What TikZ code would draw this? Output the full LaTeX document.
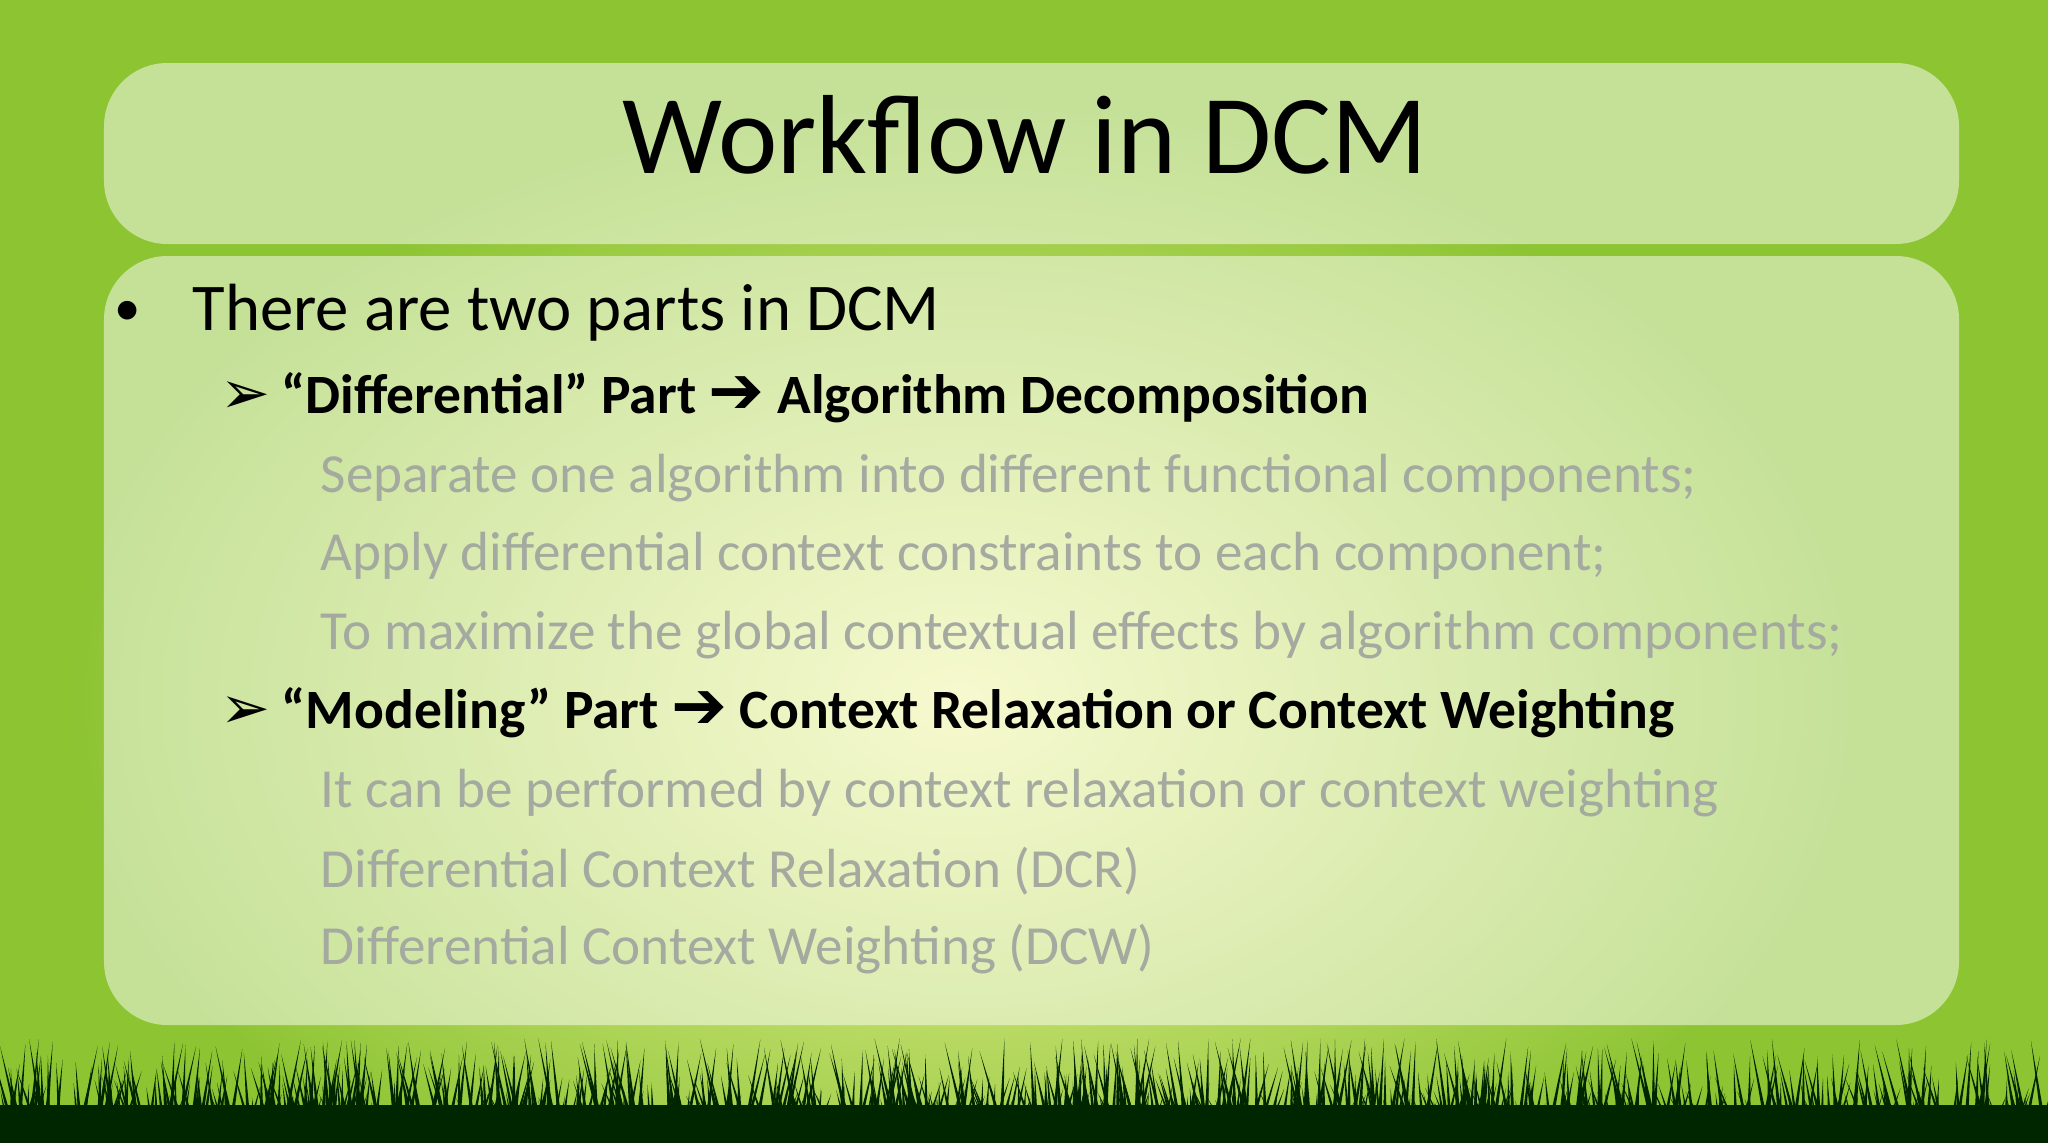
\documentclass[tikz,border=0pt]{standalone}
\usepackage{fontspec}
\setmainfont{Carlito}
\newfontfamily\symf{DejaVu Sans}
\definecolor{bggreen}{RGB}{140,196,50}
\definecolor{glow}{RGB}{250,250,170}
\definecolor{graytxt}{RGB}{165,170,160}
\tikzset{
  panel/.style={fill=white,fill opacity=0.5,draw=none,rounded corners=18pt},
  bold/.style={anchor=west,font=\fontsize{15.8}{19}\selectfont\bfseries,inner sep=0},
  gray/.style={anchor=west,font=\fontsize{15.7}{19}\selectfont,text=graytxt,inner sep=0},
}
\begin{document}
\begin{tikzpicture}
\useasboundingbox (0,0) rectangle (20.48,-11.43);
\fill[bggreen] (0,0) rectangle (20.48,-11.43);
\shade[inner color=glow,outer color=bggreen,opacity=0.9] (9.6,-7) ellipse (9 and 6);
\fill[panel] (1.04,-0.63) rectangle (19.59,-2.44);
\fill[panel] (1.04,-2.56) rectangle (19.59,-10.25);
\node (title) at (10.25,-1.35) {\fontsize{32}{38}\selectfont Workflow in DCM};
\node[anchor=west,inner sep=0] (b0) at (1.14,-3.13) {\fontsize{15}{24}\selectfont •};
\node[anchor=west,inner sep=0] (l0) at (1.92,-3.13) {\fontsize{19}{24}\selectfont There are two parts in DCM};
\node[bold] (a1) at (2.2,-3.98) {\fontsize{17}{19}\symf\char"27A2};
\node[bold] (l1) at (2.81,-3.98) {“Differential” Part {\fontsize{19}{19}\symf\char"2794} Algorithm Decomposition};
\node[gray] (g1) at (3.2,-4.78) {Separate one algorithm into different functional components;};
\node[gray] (g2) at (3.2,-5.56) {Apply differential context constraints to each component;};
\node[gray] (g3) at (3.2,-6.35) {To maximize the global contextual effects by algorithm components;};
\node[bold] (a2) at (2.2,-7.13) {\fontsize{17}{19}\symf\char"27A2};
\node[bold] (l2) at (2.81,-7.13) {“Modeling” Part {\fontsize{19}{19}\symf\char"2794} Context Relaxation or Context Weighting};
\node[gray] (g4) at (3.2,-7.93) {It can be performed by context relaxation or context weighting};
\node[gray] (g5) at (3.2,-8.71) {Differential Context Relaxation (DCR)};
\node[gray] (g6) at (3.2,-9.49) {Differential Context Weighting (DCW)};
% grass
\fill[black!85!green] (0,-11.43) rectangle (20.48,-11.05);
\pgfmathsetseed{7}
\foreach \i in {0,...,900}{
  \pgfmathsetmacro{\x}{rnd*20.48}
  \pgfmathsetmacro{\h}{0.4+rnd*0.65}
  \pgfmathsetmacro{\d}{(rnd-0.5)*0.5}
  \fill[black!85!green] (\x,-11.43) -- (\x+0.05,-11.43) -- (\x+\d,-11.43+\h) -- cycle;
}
\end{tikzpicture}
\end{document}
